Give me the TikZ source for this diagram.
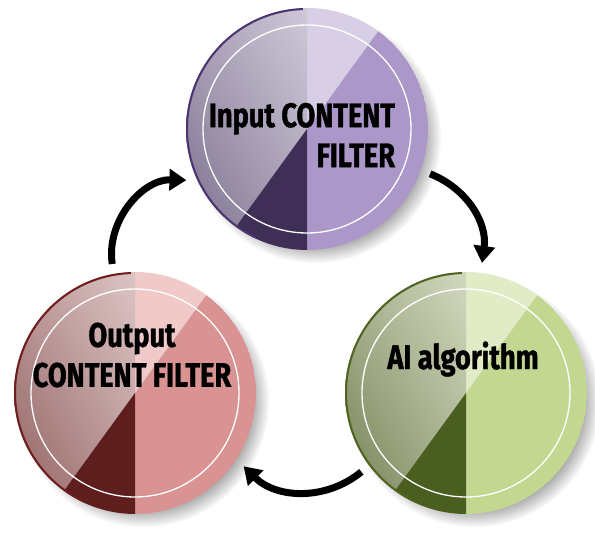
\documentclass[tikz,border=0pt]{standalone}
\usepackage{tikz}
\usetikzlibrary{positioning, arrows.meta, shadows, shadings, calc}
\usepackage{fontspec}
\newfontfamily\discfont{Fira Sans}[FakeStretch=0.8, FakeBold=1.2]
\usepackage{xcolor}
\definecolor{inlight}{HTML}{D8CEE6}
\definecolor{inmain}{HTML}{AB98C9}
\definecolor{ingrayl}{HTML}{CFC8D8}
\definecolor{ingrayd}{HTML}{7F7390}
\definecolor{indark}{HTML}{3F2F57}
\definecolor{inedge}{HTML}{4A3570}
\definecolor{outlight}{HTML}{F0C9C9}
\definecolor{outmain}{HTML}{D99393}
\definecolor{outgrayl}{HTML}{DCC4C4}
\definecolor{outgrayd}{HTML}{956565}
\definecolor{outdark}{HTML}{5E1E1E}
\definecolor{outedge}{HTML}{6E1C1C}
\definecolor{ailight}{HTML}{E1EBC6}
\definecolor{aimain}{HTML}{C4D791}
\definecolor{aigrayl}{HTML}{D2D8BE}
\definecolor{aigrayd}{HTML}{78855A}
\definecolor{aidark}{HTML}{4A5E20}
\definecolor{aiedge}{HTML}{4E6420}

\begin{document}
\begin{tikzpicture}[
      x=1pt, y=1pt,
      disc/.style={circle, minimum size=242pt, inner sep=0pt, outer sep=10pt,
        circular drop shadow={shadow xshift=8pt, shadow yshift=-8pt,
                              shadow scale=1.04, opacity=0.7},
        path picture={
          \begin{scope}[shift={(path picture bounding box.center)}]
            \fill[#1main] (0,0) -- (-90:121)
              arc[start angle=-90, end angle=54, radius=121] -- cycle;
            \fill[#1light] (0,0) -- (54:121)
              arc[start angle=54, end angle=90, radius=121] -- cycle;
            \shade[upper right=#1grayl, lower left=#1grayd,
                   upper left=#1grayl!55!#1grayd, lower right=#1grayl!55!#1grayd]
              (0,0) -- (90:121)
              arc[start angle=90, end angle=234, radius=121] -- cycle;
            \fill[#1dark] (0,0) -- (234:121)
              arc[start angle=234, end angle=270, radius=121] -- cycle;
            \draw[white, line width=1.3pt] (0,0) circle[radius=104];
            \draw[#1edge, line width=2pt] (92:120)
              arc[start angle=92, end angle=245, radius=120];
          \end{scope}}},
      disctext/.style={font=\discfont\bfseries\fontsize{34}{40}\selectfont},
      flow/.style={-{Triangle[length=17pt, width=21pt]}, line width=7pt},
    ]
    \useasboundingbox (0,0) rectangle (595,536);

    % Discs
    \node[disc=in]  (infilter)  at (307, 407) {};
    \node[disc=out] (outfilter) at (135, 143) {};
    \node[disc=ai]  (aialgo)    at (466, 143) {};

    % Labels
    \node[disctext, align=right] (intext) at ([xshift=-5pt, yshift=-6pt]infilter.center)
      {Input CONTENT\\FILTER};
    \node[disctext, align=center] (outtext) at ([xshift=-3pt, yshift=38pt]outfilter.center)
      {Output\\CONTENT FILTER};
    \node[disctext] (aitext) at ([xshift=-3pt, yshift=34pt]aialgo.center)
      {AI algorithm};

    % Cycle
    \draw[flow] (outfilter.100) to[bend left=50] (infilter.203);
    \draw[flow] (infilter.-20) to[bend left=38] (aialgo.83);
    \draw[flow] (aialgo.217) to[bend left=42] (outfilter.-34);
  \end{tikzpicture}
\end{document}
